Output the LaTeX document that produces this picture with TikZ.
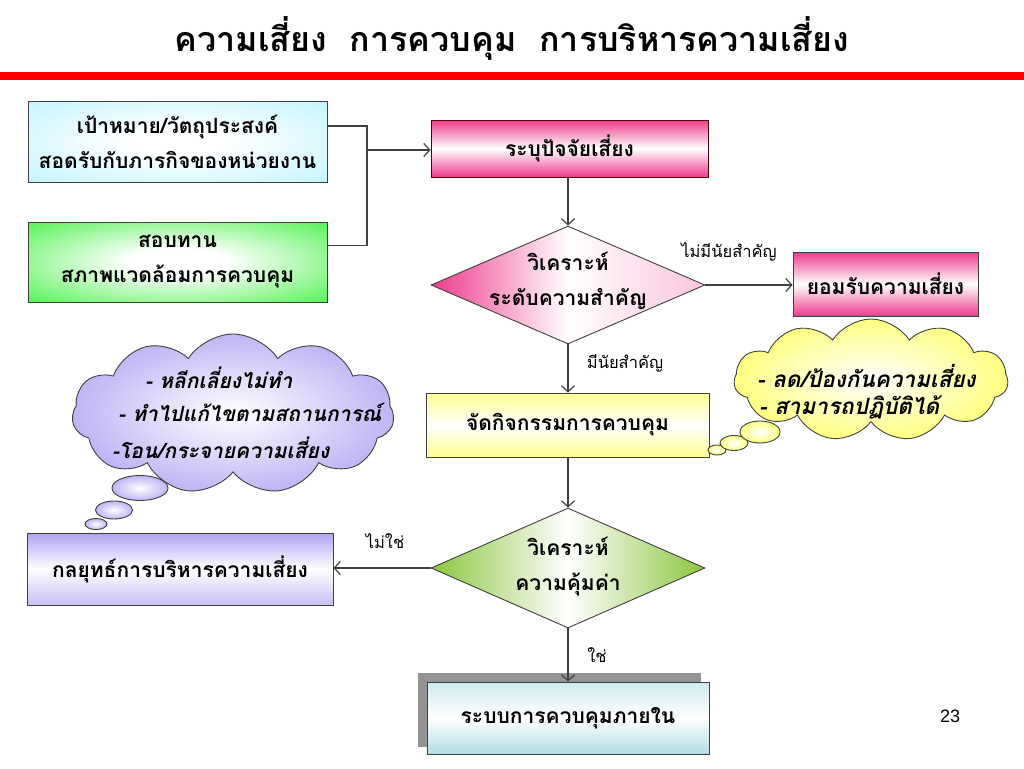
\documentclass[tikz,border=0pt]{standalone}
\usepackage{fontspec}
\setmainfont{Liberation Sans}
\newfontfamily\thai[Script=Thai]{Loma}
\usetikzlibrary{shapes.geometric,shapes.symbols,arrows.meta,calc}
\definecolor{boxcyan}{HTML}{A8F0FF}
\definecolor{boxgreen}{HTML}{22EE22}
\definecolor{boxpink}{HTML}{EE3A8C}
\definecolor{boxyellow}{HTML}{FFFF90}
\definecolor{dgreen}{HTML}{8CC63F}
\definecolor{boxpurple}{HTML}{B0A2F2}
\definecolor{boxteal}{HTML}{B0DCE4}
\definecolor{cloudpurple}{HTML}{BFB4F5}
\definecolor{cloudyellow}{HTML}{FFFF80}
\definecolor{linegray}{HTML}{404040}
\pgfdeclareradialshading{greenglow}{\pgfpoint{0bp}{0bp}}{color(0bp)=(white); color(8bp)=(white); color(44bp)=(boxgreen); color(72bp)=(boxgreen)}
\pgfdeclareradialshading{cyanglow}{\pgfpoint{0bp}{0bp}}{color(0bp)=(white); color(8bp)=(white); color(48bp)=(boxcyan); color(72bp)=(boxcyan)}
\tikzset{
  boxtxt/.style={font=\thai\bfseries\fontsize{21}{35}\selectfont, align=center, text=black},
  box/.style={rectangle, draw=linegray, line width=0.9pt, inner sep=0pt, boxtxt},
  lbl/.style={font=\thai\fontsize{16.5}{18}\selectfont, text=black, inner sep=0pt},
  cloudtxt/.style={font=\thai\bfseries\itshape\fontsize{21}{24}\selectfont, text=black, inner sep=0pt, anchor=west},
  conn/.style={draw=linegray, line width=1.2pt},
  arr/.style={conn, -{Straight Barb[length=6pt,width=13pt]}},
  dmd/.style={diamond, draw=linegray, line width=0.9pt, inner sep=0pt},
  cloudshape/.style={cloud, cloud puffs=11, cloud puff arc=115, draw=linegray, line width=0.9pt, inner sep=0pt},
  bubble/.style={ellipse, draw=linegray, line width=0.9pt, inner sep=0pt},
}
\begin{document}
\begin{tikzpicture}[x=1pt,y=-1pt]
\useasboundingbox (0,0) rectangle (1024,768);
\fill[white] (0,0) rectangle (1024,768);
% title
\node[font=\thai\bfseries\fontsize{34}{40}\selectfont] (title) at (512,38) {ความเสี่ยง\ \ การควบคุม\ \ การบริหารความเสี่ยง};
\fill[red] (0,72) rectangle (1024,80);
% boxes
\node[box, minimum width=299pt, minimum height=81pt, shading=cyanglow] (b1) at (177.5,141.5) {เป้าหมาย/วัตถุประสงค์\\สอดรับกับภารกิจของหน่วยงาน};
\node[box, minimum width=299pt, minimum height=80pt, shading=greenglow] (b2) at (177.5,262) {สอบทาน\\สภาพแวดล้อมการควบคุม};
\node[box, draw=black!70!red, minimum width=277pt, minimum height=57pt, top color=boxpink, bottom color=boxpink, middle color=white] (b3) at (569.5,148.5) {ระบุปัจจัยเสี่ยง};
\node[dmd, minimum width=274pt, minimum height=118pt, left color=boxpink, right color=boxpink!30, middle color=white] (d1) at (568,285) {};
\node[boxtxt] (d1t) at (568,281) {วิเคราะห์\\ระดับความสำคัญ};
\node[box, minimum width=185pt, minimum height=64pt, top color=boxpink, bottom color=boxpink, middle color=white] (b4) at (885.5,284) {ยอมรับความเสี่ยง};
\node[box, minimum width=283pt, minimum height=64pt, top color=boxyellow, bottom color=boxyellow, middle color=white] (b5) at (567.5,425) {จัดกิจกรรมการควบคุม};
\node[dmd, minimum width=274pt, minimum height=120pt, left color=dgreen, right color=dgreen, middle color=white] (d2) at (568,568) {};
\node[boxtxt] (d2t) at (568,567) {วิเคราะห์\\ความคุ้มค่า};
\node[box, minimum width=306pt, minimum height=72pt, top color=boxpurple, bottom color=boxpurple!70, middle color=white] (b6) at (180,569) {กลยุทธ์การบริหารความเสี่ยง};
\node[rectangle, fill=black!42, minimum width=283pt, minimum height=74pt, inner sep=0pt] (b7s) at (559.5,710) {};
\node[box, minimum width=282pt, minimum height=72pt, top color=boxteal!60, bottom color=boxteal, middle color=white] (b7) at (568,718) {ระบบการควบคุมภายใน};
% junction
\coordinate (jn) at (367,150);
\draw[conn] ($(b1.north east)!0.31!(b1.south east)$) -| (jn);
\draw[conn] ($(b2.north east)!0.3!(b2.south east)$) -| (jn);
\draw[arr] (jn) -- (b3.west |- jn);
\draw[arr] (b3.south -| d1.north) -- (d1.north);
\draw[arr] (d1.east) -- (b4.west |- d1.east);
\node[lbl] (l1) at (729,252) {ไม่มีนัยสำคัญ};
\draw[arr] (d1.south) -- (b5.north -| d1.south);
\node[lbl] (l2) at (625,363) {มีนัยสำคัญ};
\draw[arr] (b5.south -| d2.north) -- (d2.north);
\draw[arr] (d2.west) -- (b6.east |- d2.west);
\node[lbl] (l3) at (385,541) {ไม่ใช่};
\draw[arr] (d2.south) -- (b7.north -| d2.south);
\node[lbl] (l4) at (597,655) {ใช่};
% left cloud
\node[bubble, minimum width=22pt, minimum height=11pt, inner color=white, outer color=cloudpurple] (c1c) at (96,524) {};
\node[bubble, minimum width=37pt, minimum height=18pt, inner color=white, outer color=cloudpurple] (c1b) at (114,510) {};
\node[bubble, minimum width=56pt, minimum height=25pt, inner color=white, outer color=cloudpurple] (c1a) at (140,488) {};
\node[cloudshape, aspect=2.1, minimum width=322pt, minimum height=160pt, inner color=white, outer color=cloudpurple] (c1) at (233,414) {};
\node[cloudtxt] (c1t1) at (145,378) {- หลีกเลี่ยงไม่ทำ};
\node[cloudtxt] (c1t2) at (118,412) {- ทำไปแก้ไขตามสถานการณ์};
\node[cloudtxt] (c1t3) at (112,448) {-โอน/กระจายความเสี่ยง};
% right cloud
\node[bubble, minimum width=18pt, minimum height=10pt, inner color=white, outer color=cloudyellow] (c2c) at (717,450) {};
\node[bubble, minimum width=28pt, minimum height=15pt, inner color=white, outer color=cloudyellow] (c2b) at (734,443) {};
\node[bubble, minimum width=40pt, minimum height=22pt, inner color=white, outer color=cloudyellow] (c2a) at (760,432) {};
\node[cloudshape, aspect=2.3, minimum width=274pt, minimum height=122pt, inner color=white, outer color=cloudyellow] (c2) at (871,380) {};
\node[cloudtxt, font=\thai\bfseries\itshape\fontsize{22.5}{24}\selectfont] (c2t1) at (757,376) {- ลด/ป้องกันความเสี่ยง};
\node[cloudtxt, font=\thai\bfseries\itshape\fontsize{22.5}{24}\selectfont] (c2t2) at (759,407) {- สามารถปฏิบัติได้};
% page number
\node[font=\fontsize{18}{20}\selectfont] (pg) at (950,716) {23};
\end{tikzpicture}
\end{document}
